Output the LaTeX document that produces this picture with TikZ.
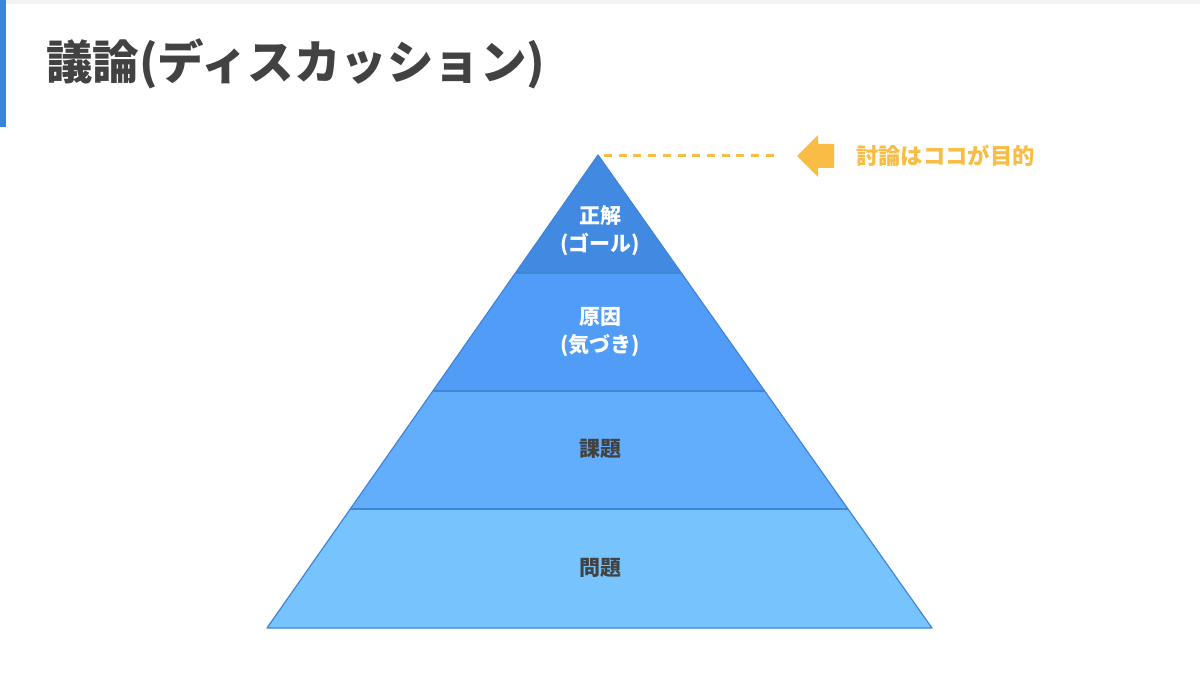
\documentclass[tikz,border=0pt]{standalone}
\usepackage{fontspec}
\setmainfont{Noto Sans CJK JP}
\usetikzlibrary{calc}
\definecolor{titlegray}{HTML}{424242}
\definecolor{barblue}{HTML}{3A85DC}
\definecolor{lay1}{HTML}{4189E1}
\definecolor{lay2}{HTML}{509CF6}
\definecolor{lay3}{HTML}{63AEFC}
\definecolor{lay4}{HTML}{77C3FD}
\definecolor{edgeblue}{HTML}{3F86D8}
\definecolor{accent}{HTML}{F9BC45}
\begin{document}
\begin{tikzpicture}[x=1pt,y=-1pt,
  layer/.style={draw=edgeblue,line width=1.2pt,line join=round},
  lbl/.style={font=\fontsize{21}{28}\selectfont\bfseries,align=center,inner sep=0pt},
  lightlbl/.style={lbl,text=white},
  darklbl/.style={lbl,text=titlegray}]
\useasboundingbox (0,0) rectangle (1200,676);
\fill[white] (0,0) rectangle (1200,676);
\fill[black!5] (0,0) rectangle (1200,4);
\fill[barblue] (0,0) rectangle (6,127);
\node[anchor=west,inner sep=0pt,text=titlegray,font=\fontsize{46.5}{52}\selectfont\bfseries] (title) at (46,64) {議論(ディスカッション)};
% pyramid
\coordinate (apex) at (598,155);
\coordinate (bl) at (267,628);
\coordinate (br) at (932,628);
\foreach \n/\t in {a/0.24947,b/0.49894,c/0.74841}{
  \coordinate (l\n) at ($(apex)!\t!(bl)$);
  \coordinate (r\n) at ($(apex)!\t!(br)$);
}
\fill[lay4] (lc) -- (rc) -- (br) -- (bl) -- cycle;
\fill[lay3] (lb) -- (rb) -- (rc) -- (lc) -- cycle;
\fill[lay2] (la) -- (ra) -- (rb) -- (lb) -- cycle;
\fill[lay1] (apex) -- (ra) -- (la) -- cycle;
\draw[layer] (apex) -- (br) -- (bl) -- cycle;
\draw[edgeblue,line width=1.2pt] (la) -- (ra) (lb) -- (rb) (lc) -- (rc);
\node[lightlbl] (goal) at (600,231) {正解\\(ゴール)};
\node[lightlbl] (cause) at (600,332) {原因\\(気づき)};
\node[darklbl] (task) at (600,449) {課題};
\node[darklbl] (problem) at (600,568) {問題};
% annotation
\node[anchor=west,inner sep=0pt,text=accent,font=\fontsize{22.3}{26}\selectfont\bfseries] (purpose) at (856,156) {討論はココが目的};
\coordinate (dashstart) at (604,155.5);
\coordinate (dashend) at (778,155.5);
\draw[accent,line width=2.6pt,dash pattern=on 8pt off 6.7pt] (dashstart) -- (dashend);
\fill[accent] (797,156) -- (818,135) -- (818,144) -- (834,144) -- (834,168) -- (818,168) -- (818,177) -- cycle;
\end{tikzpicture}
\end{document}
